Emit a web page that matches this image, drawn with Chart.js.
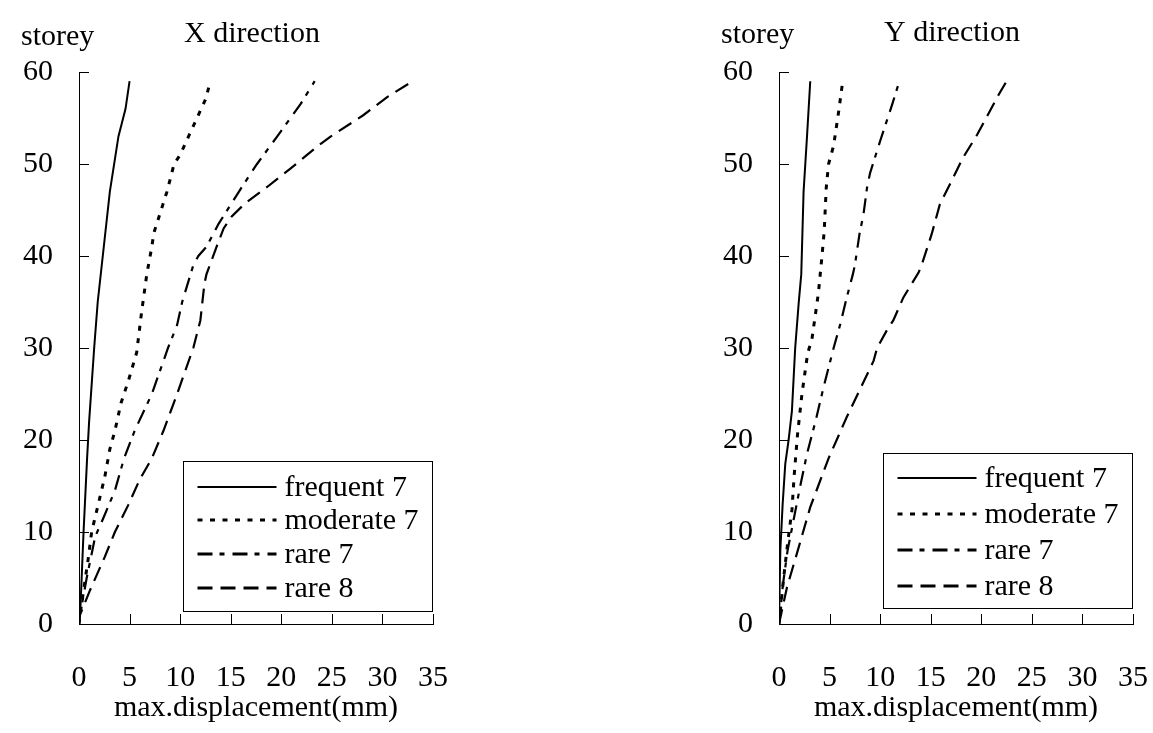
<!DOCTYPE html>
<html>
<head>
<meta charset="utf-8">
<title>max displacement</title>
<script src="https://cdn.jsdelivr.net/npm/chart.js@4.4.1/dist/chart.umd.min.js"></script>
<style>
  html, body { margin: 0; padding: 0; background: #fff; }
  #wrap { position: relative; width: 1153px; height: 733px; }
  canvas { position: absolute; top: 0; }
  #chartX { left: 0; }
  #chartY { left: 700px; }
</style>
</head>
<body>
<div id="wrap">
  <canvas id="chartX" width="453" height="733"></canvas>
  <canvas id="chartY" width="453" height="733"></canvas>
</div>
<script>
// series names (legend)
const seriesNames = ['frequent 7', 'moderate 7', 'rare 7', 'rare 8'];

// X direction : storey / max displacement (mm)
const xFreqStorey = [0, 2, 10, 18, 22, 30, 35, 47, 53, 56, 59];
const xFreqDisp   = [0, 0.15, 0.45, 0.8, 1.0, 1.5, 1.85, 3.05, 3.9, 4.6, 5.0];
const xModStorey  = [0, 1, 7, 10, 13, 16, 19, 21, 24, 26.5, 29.5, 34, 38, 41, 42.5, 47, 50, 51, 57, 59];
const xModDisp    = [0, 0.1, 0.9, 1.25, 1.9, 2.55, 3.05, 3.55, 4.15, 4.9, 5.7, 6.2, 6.7, 7.2, 7.4, 8.7, 9.4, 10.0, 12.5, 13.0];
const xRare7Storey = [0, 1, 2, 5, 9.5, 11.5, 14.5, 18, 21, 25, 30, 32.5, 35, 39, 40, 41, 43.5, 45.5, 48, 50, 53, 56.5, 59];
const xRare7Disp   = [0, 0.05, 0.27, 0.76, 1.6, 2.4, 3.55, 4.45, 5.5, 7.2, 8.8, 9.7, 10.2, 11.3, 11.8, 12.6, 13.8, 14.95, 16.4, 17.6, 19.6, 21.9, 23.3];
const xRare8Storey = [0, 1, 3.7, 7.3, 10, 13, 15.7, 18, 21, 25, 30, 33, 37, 38, 41, 43, 44.3, 45.7, 47.5, 49.5, 52.2, 53, 55.3, 57.3, 59];
const xRare8Disp   = [0, 0.1, 1.1, 2.55, 3.55, 4.9, 6.0, 7.2, 8.35, 9.7, 11.3, 12.0, 12.4, 12.6, 13.6, 14.3, 15.1, 16.4, 18.6, 20.9, 23.9, 24.9, 28.1, 30.5, 33.0];

// Y direction
const yFreqStorey = [0, 8, 13, 17.4, 20, 23.2, 30, 34.8, 38, 47, 53, 59];
const yFreqDisp   = [0, 0.13, 0.36, 0.62, 0.95, 1.28, 1.6, 1.94, 2.2, 2.43, 2.77, 3.09];
const yModStorey  = [0, 5, 8.75, 12.4, 16.3, 20.7, 25, 29.4, 31, 36, 40, 42.7, 47.4, 50, 52, 55.7, 59];
const yModDisp    = [0, 0.46, 0.85, 1.28, 1.51, 1.84, 2.27, 2.83, 3.26, 3.9, 4.25, 4.47, 4.67, 4.9, 5.4, 5.9, 6.3];
const yRare7Storey = [0, 4.4, 8, 11.3, 15, 18.5, 22, 25.7, 30, 32.6, 35.5, 38, 39, 42.4, 44.5, 47.4, 49, 52.5, 56.5, 59];
const yRare7Disp   = [0, 0.4, 0.85, 1.44, 2.1, 2.77, 3.6, 4.4, 5.4, 6.06, 6.7, 7.3, 7.5, 7.96, 8.35, 8.7, 9.0, 10.0, 11.2, 11.9];
const yRare8Storey = [0, 4, 7.7, 12.7, 18, 22.5, 28.6, 30, 32, 33, 35.5, 38.2, 39, 42.4, 45.6, 47.8, 50.7, 53.2, 57.5, 59];
const yRare8Disp   = [0, 0.79, 1.78, 3.09, 4.9, 6.7, 9.35, 9.7, 10.7, 11.3, 12.3, 13.8, 14.1, 15.1, 15.9, 16.9, 18.2, 19.6, 21.7, 22.5];

const FONT = "'Liberation Serif', 'Times New Roman', serif";
Chart.defaults.font.family = FONT;
Chart.defaults.font.size = 30;
Chart.defaults.color = '#000';

// line styles per series (legend samples are drawn a bit heavier)
const lineStyles = [
  { width: 2, legendWidth: 2, dash: [] },
  { width: 3, legendWidth: 3, dash: [5, 7.5] },
  { width: 2.2, legendWidth: 3, dash: [15, 7, 5, 8] },
  { width: 2.2, legendWidth: 3, dash: [15, 8] }
];

function pairs(disp, storey) {
  return disp.map((d, i) => ({ x: d, y: storey[i] }));
}

// inward tick marks, header texts and the boxed legend
const decorations = {
  id: 'decorations',
  afterDraw(chart, args, opts) {
    const ctx = chart.ctx;
    const area = chart.chartArea;
    const xs = chart.scales.x, ys = chart.scales.y;
    ctx.save();
    ctx.strokeStyle = '#000';
    ctx.lineWidth = 1;
    ctx.setLineDash([]);
    ctx.beginPath();
    ys.ticks.forEach(t => {
      const py = Math.round(ys.getPixelForValue(t.value)) + 0.5;
      ctx.moveTo(area.left, py);
      ctx.lineTo(area.left + 10, py);
    });
    xs.ticks.forEach(t => {
      const px = Math.round(xs.getPixelForValue(t.value)) + 0.5;
      ctx.moveTo(px, area.bottom);
      ctx.lineTo(px, area.bottom - 10);
    });
    ctx.stroke();

    ctx.fillStyle = '#000';
    ctx.font = '30px ' + FONT;
    ctx.textBaseline = 'alphabetic';
    ctx.textAlign = 'left';
    ctx.fillText('storey', 21, opts.storeyY);
    ctx.textAlign = 'center';
    ctx.fillText(opts.title, 252, opts.titleY);

    // legend box
    const bx = Math.round(area.left + 104) + 0.5;
    const bw = 249;
    const by = opts.legendTop + 0.5;
    const bh = opts.legendHeight;
    ctx.strokeRect(bx, by, bw, bh);
    chart.data.datasets.forEach((ds, i) => {
      const cy = Math.round(by + opts.rowFirst + i * opts.rowStep);
      ctx.beginPath();
      ctx.lineWidth = lineStyles[i].legendWidth;
      ctx.setLineDash(ds.borderDash);
      ctx.moveTo(bx + 14, cy);
      ctx.lineTo(bx + 93, cy);
      ctx.stroke();
      ctx.setLineDash([]);
      ctx.textAlign = 'left';
      ctx.textBaseline = 'middle';
      ctx.fillText(ds.label, bx + 101, cy + 1);
    });
    ctx.restore();
  }
};

function makeChart(id, series, deco) {
  const datasets = series.map((s, i) => ({
    label: seriesNames[i],
    data: pairs(s[0], s[1]),
    borderColor: '#000',
    borderWidth: lineStyles[i].width,
    borderDash: lineStyles[i].dash,
    pointRadius: 0,
    tension: 0,
    fill: false
  }));
  return new Chart(document.getElementById(id), {
    type: 'line',
    data: { datasets: datasets },
    options: {
      responsive: false,
      animation: false,
      layout: { padding: { top: 72, right: 20, bottom: 0, left: 0 } },
      scales: {
        x: {
          type: 'linear', min: 0, max: 35,
          ticks: { stepSize: 5, padding: 0, maxRotation: 0, autoSkip: false },
          // invisible tick marks only push the labels down
          grid: { display: true, drawOnChartArea: false, drawTicks: true, tickLength: 36, tickColor: 'rgba(0,0,0,0)' },
          border: { display: true, color: '#000', width: 1 },
          title: { display: true, text: 'max.displacement(mm)', padding: { top: 0, bottom: 7 } },
          afterFit(s) { s.height = 109; }
        },
        y: {
          type: 'linear', min: 0, max: 60,
          ticks: { stepSize: 10, padding: 26 },
          grid: { display: false, drawTicks: false },
          border: { display: true, color: '#000', width: 1 },
          afterFit(s) { s.width = 79; }
        }
      },
      plugins: {
        legend: { display: false },
        tooltip: { enabled: false },
        decorations: deco
      }
    },
    plugins: [decorations]
  });
}

makeChart('chartX', [
  [xFreqDisp, xFreqStorey],
  [xModDisp, xModStorey],
  [xRare7Disp, xRare7Storey],
  [xRare8Disp, xRare8Storey]
], { title: 'X direction', titleY: 42, storeyY: 45, legendTop: 461, legendHeight: 150, rowFirst: 25, rowStep: 33.7 });

makeChart('chartY', [
  [yFreqDisp, yFreqStorey],
  [yModDisp, yModStorey],
  [yRare7Disp, yRare7Storey],
  [yRare8Disp, yRare8Storey]
], { title: 'Y direction', titleY: 41, storeyY: 43, legendTop: 453, legendHeight: 155, rowFirst: 24, rowStep: 36.3 });
</script>
</body>
</html>
